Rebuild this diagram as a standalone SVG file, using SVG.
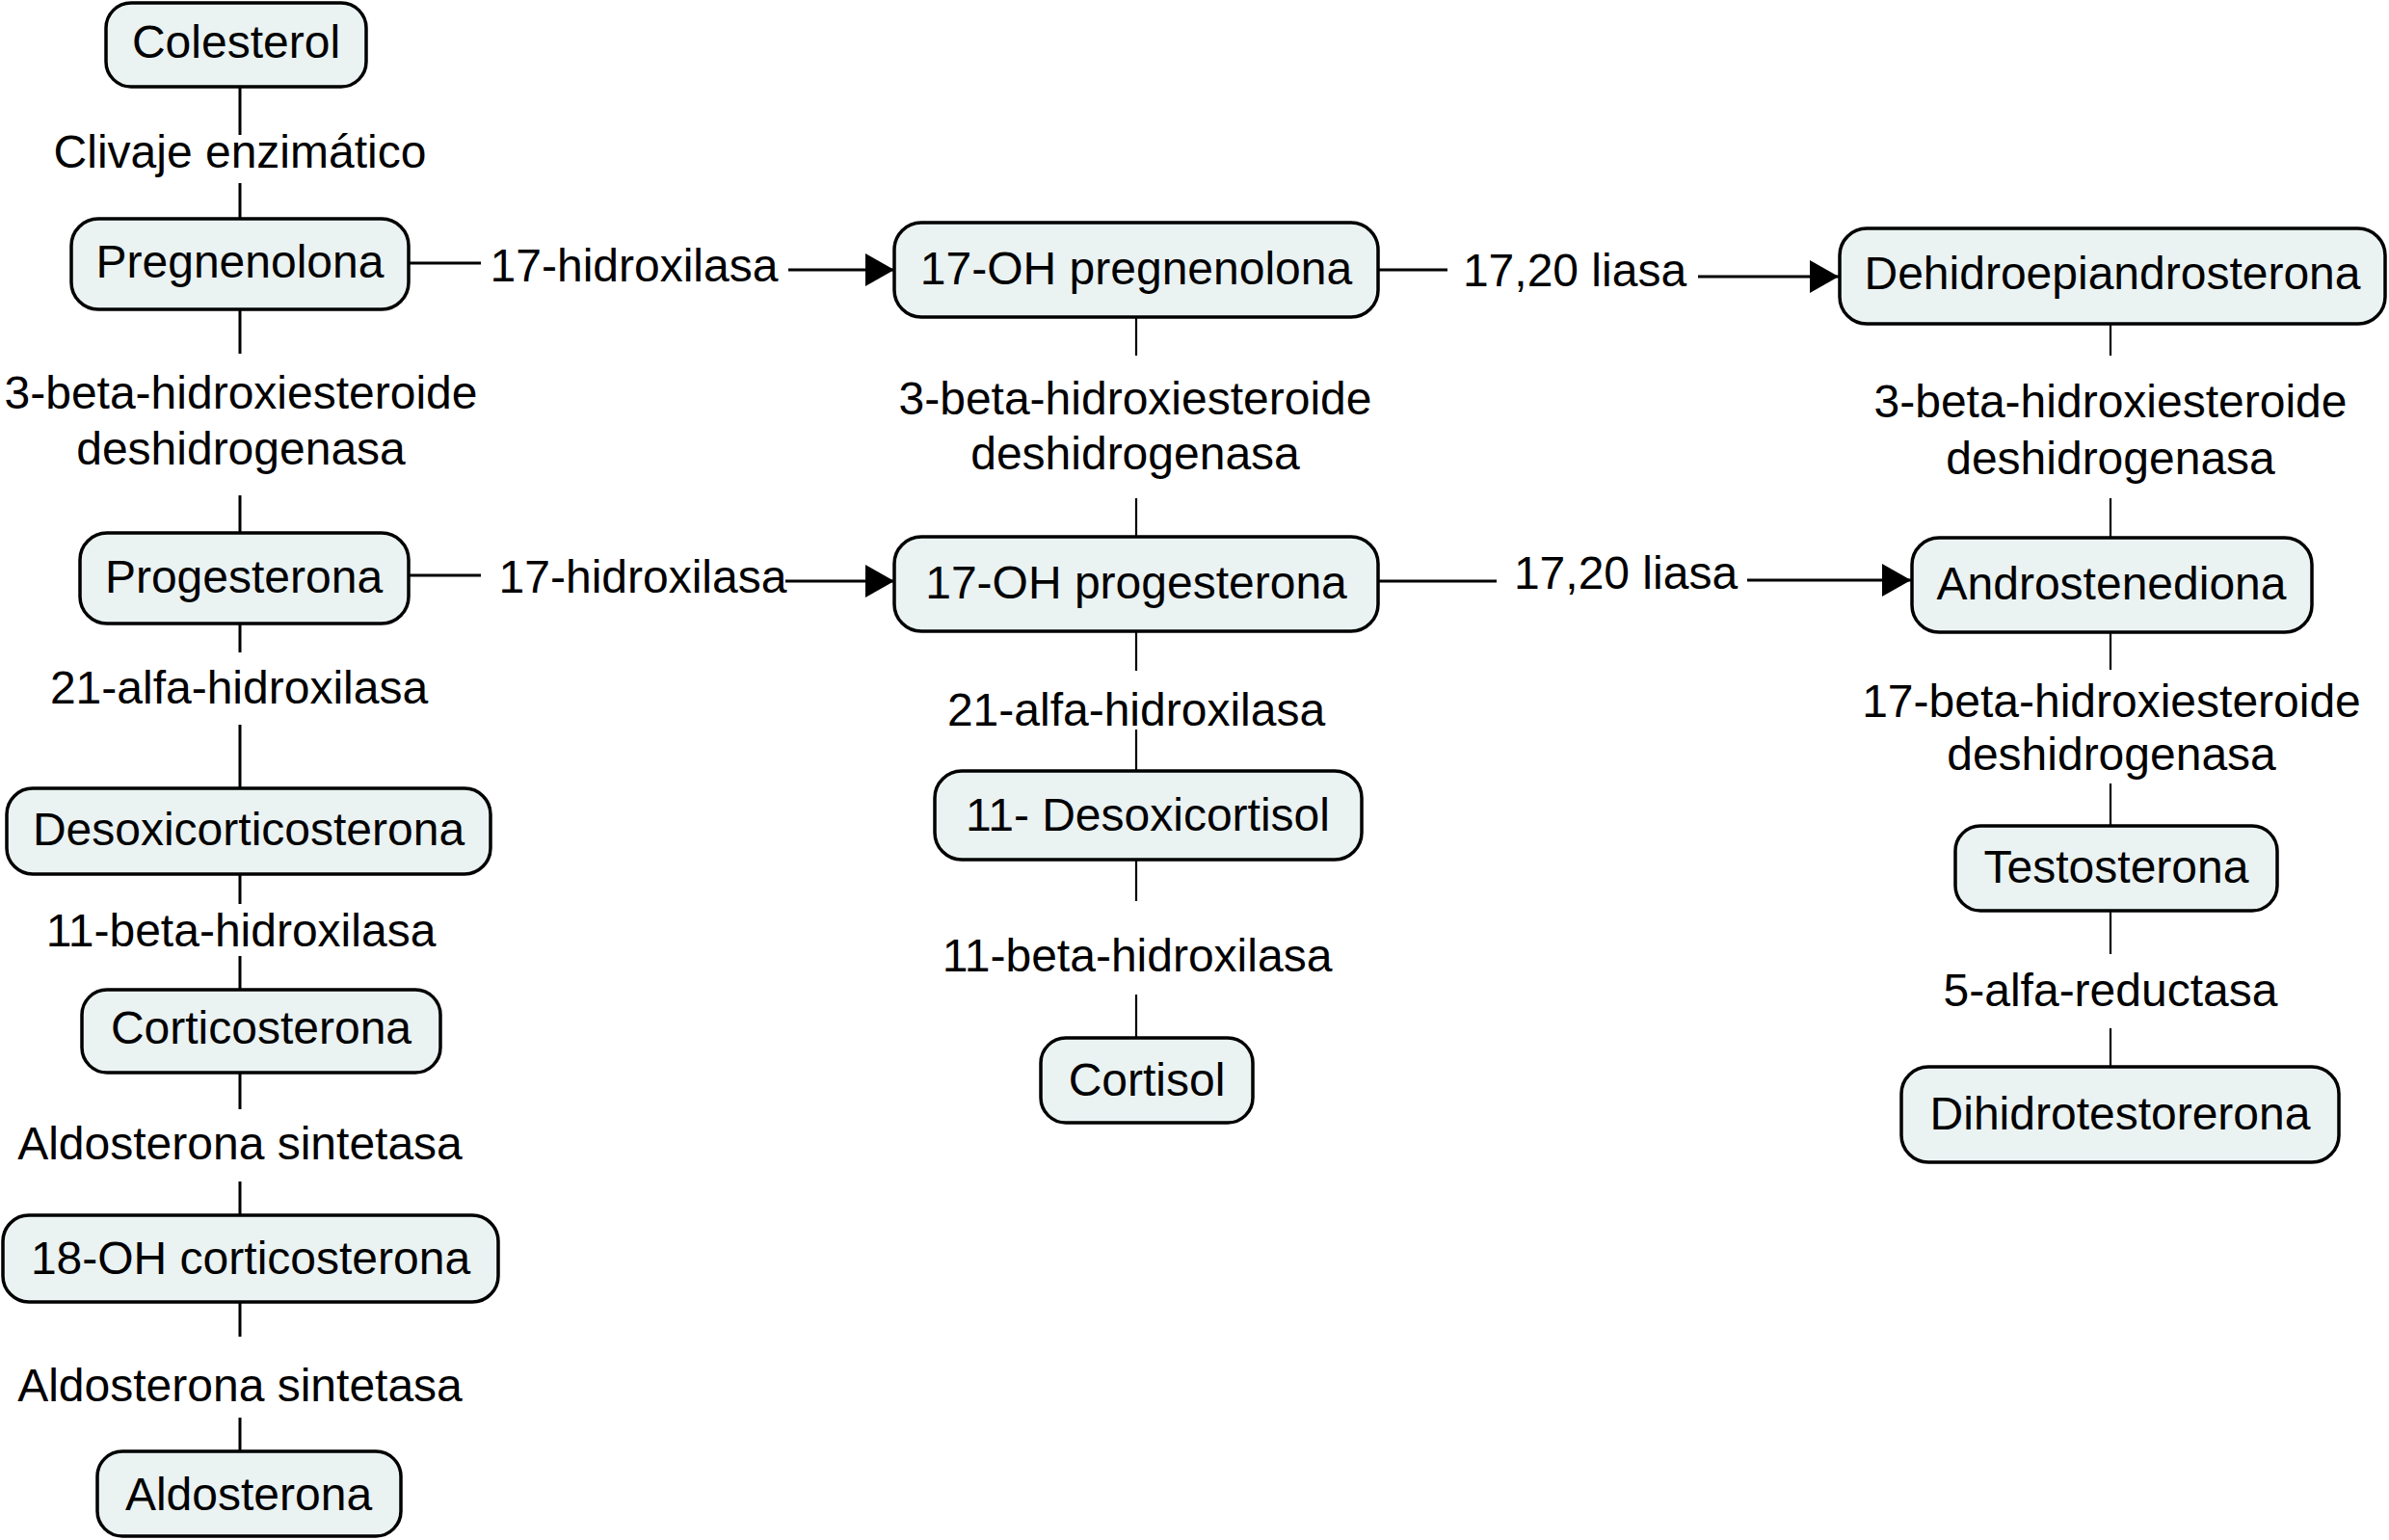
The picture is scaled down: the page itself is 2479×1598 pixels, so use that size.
<svg xmlns="http://www.w3.org/2000/svg" width="2479" height="1598" viewBox="0 0 2479 1598">
<style>
.box{fill:#EAF2F2;stroke:#000;stroke-width:3.5}
.t{font-family:"Liberation Sans",Arial,Helvetica,sans-serif;font-size:48px;fill:#000;text-anchor:middle}
.c{stroke:#000;stroke-width:3;fill:none}
.cm{stroke:#000;stroke-width:2.2;fill:none}
.a{stroke:#000;stroke-width:3;fill:none;marker-end:url(#arr)}
</style>
<defs>
<marker id="arr" markerUnits="userSpaceOnUse" markerWidth="30" markerHeight="34" refX="30" refY="17" orient="auto" viewBox="0 0 30 34">
<path d="M0,0 L30,17 L0,34 z" fill="#000"/>
</marker>
</defs>
<rect width="2479" height="1598" fill="#fff"/>
<g id="connectors">
<path class="c" d="M249,90V140M249,190V227M249,321V367M249,514V553M249,647V677M249,752V818M249,907V938M249,992V1027M249,1113V1151M249,1226V1261M249,1351V1387M249,1471V1506"/>
<path class="cm" d="M1179,329V369M1179,517V557M1179,655V696M1179,757V800M1179,892V935M1179,1032V1077"/>
<path class="cm" d="M2190,336V369M2190,517V558M2190,656V695M2190,813V857M2190,945V990M2190,1067V1107"/>
<path class="c" d="M424,273H499M424,597H499M1431,280H1502M1431,603H1553"/>
<path class="a" d="M818,280H928"/>
<path class="a" d="M815,603H928"/>
<path class="a" d="M1762,287H1908"/>
<path class="a" d="M1813,602H1983"/>
<text class="t" x="658" y="292">17-hidroxilasa</text>
<text class="t" x="667" y="615">17-hidroxilasa</text>
<text class="t" x="1634" y="297">17,20 liasa</text>
<text class="t" x="1687" y="611">17,20 liasa</text>
<text class="t" x="249" y="174">Clivaje enzimático</text>
<text class="t" x="250" y="424">3-beta-hidroxiesteroide</text>
<text class="t" x="250" y="482">deshidrogenasa</text>
<text class="t" x="248" y="730">21-alfa-hidroxilasa</text>
<text class="t" x="250" y="982">11-beta-hidroxilasa</text>
<text class="t" x="249" y="1203">Aldosterona sintetasa</text>
<text class="t" x="249" y="1454">Aldosterona sintetasa</text>
<text class="t" x="1178" y="430">3-beta-hidroxiesteroide</text>
<text class="t" x="1178" y="487">deshidrogenasa</text>
<text class="t" x="1179" y="753">21-alfa-hidroxilasa</text>
<text class="t" x="1180" y="1008">11-beta-hidroxilasa</text>
<text class="t" x="2190" y="433">3-beta-hidroxiesteroide</text>
<text class="t" x="2190" y="492">deshidrogenasa</text>
<text class="t" x="2191" y="744">17-beta-hidroxiesteroide</text>
<text class="t" x="2191" y="799">deshidrogenasa</text>
<text class="t" x="2190" y="1044">5-alfa-reductasa</text>
</g>
<g id="colesterol"><rect class="box" x="110" y="3" width="270" height="87" rx="26"/><text class="t" x="245" y="60">Colesterol</text></g>
<g id="pregnenolona"><rect class="box" x="74" y="227" width="350" height="94" rx="28"/><text class="t" x="249" y="288">Pregnenolona</text></g>
<g id="progesterona"><rect class="box" x="83" y="553" width="341" height="94" rx="28"/><text class="t" x="253" y="615">Progesterona</text></g>
<g id="desoxicorticosterona"><rect class="box" x="7" y="818" width="502" height="89" rx="27"/><text class="t" x="258" y="877">Desoxicorticosterona</text></g>
<g id="corticosterona"><rect class="box" x="85" y="1027" width="372" height="86" rx="26"/><text class="t" x="271" y="1083">Corticosterona</text></g>
<g id="oh18corticosterona"><rect class="box" x="3" y="1261" width="514" height="90" rx="27"/><text class="t" x="260" y="1322">18-OH corticosterona</text></g>
<g id="aldosterona"><rect class="box" x="101" y="1506" width="315" height="88" rx="26"/><text class="t" x="258" y="1567">Aldosterona</text></g>
<g id="oh17pregnenolona"><rect class="box" x="928" y="231" width="502" height="98" rx="28"/><text class="t" x="1179" y="295">17-OH pregnenolona</text></g>
<g id="oh17progesterona"><rect class="box" x="928" y="557" width="502" height="98" rx="28"/><text class="t" x="1179" y="621">17-OH progesterona</text></g>
<g id="desoxicortisol"><rect class="box" x="970" y="800" width="443" height="92" rx="28"/><text class="t" x="1191" y="862">11- Desoxicortisol</text></g>
<g id="cortisol"><rect class="box" x="1080" y="1077" width="220" height="88" rx="26"/><text class="t" x="1190" y="1137">Cortisol</text></g>
<g id="dhea"><rect class="box" x="1909" y="237" width="566" height="99" rx="28"/><text class="t" x="2192" y="300">Dehidroepiandrosterona</text></g>
<g id="androstenediona"><rect class="box" x="1984" y="558" width="415" height="98" rx="28"/><text class="t" x="2191" y="622">Androstenediona</text></g>
<g id="testosterona"><rect class="box" x="2029" y="857" width="334" height="88" rx="26"/><text class="t" x="2196" y="916">Testosterona</text></g>
<g id="dihidrotestosterona"><rect class="box" x="1973" y="1107" width="454" height="99" rx="28"/><text class="t" x="2200" y="1172">Dihidrotestorerona</text></g>
</svg>
